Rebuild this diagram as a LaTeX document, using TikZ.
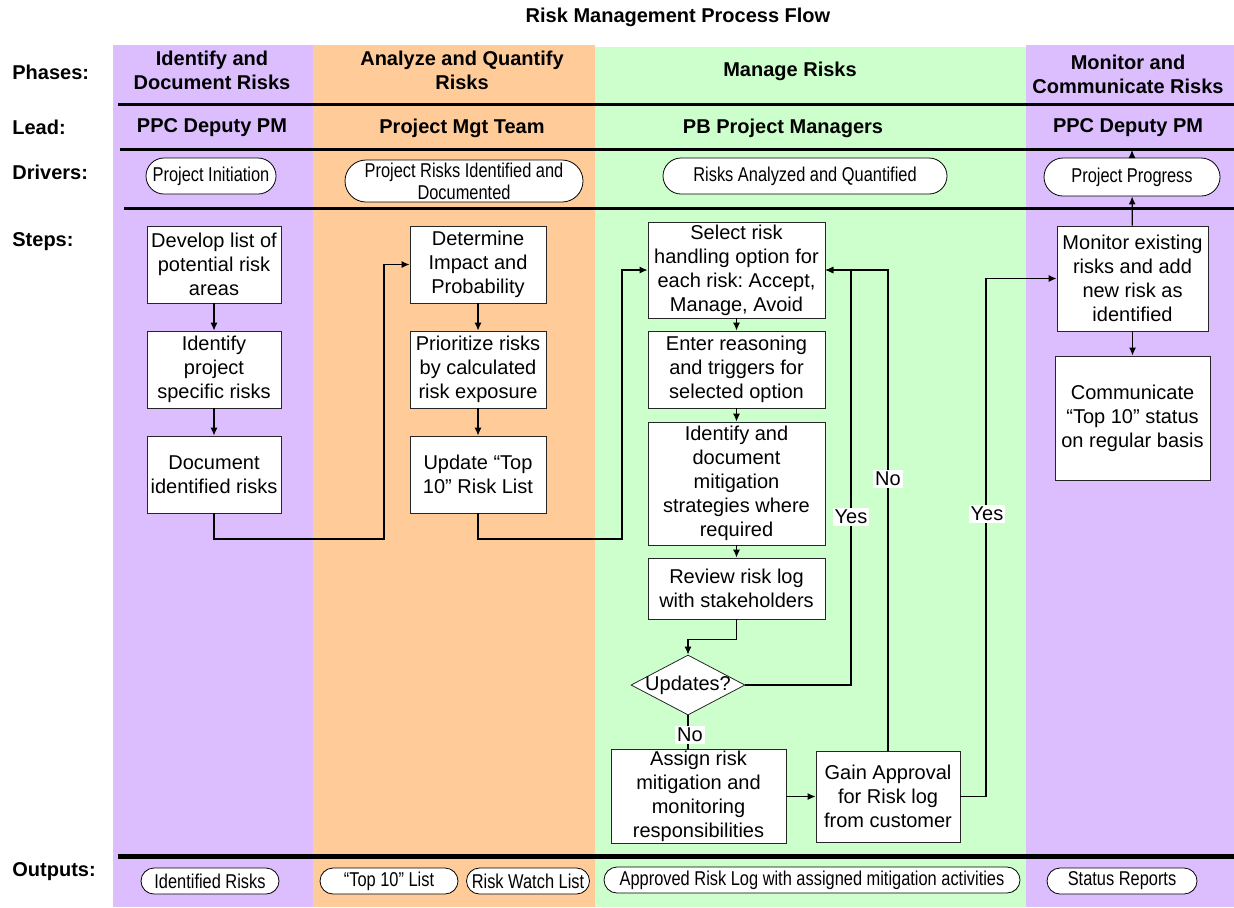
\documentclass[tikz,border=0pt]{standalone}
\usepackage{fontspec}
\setmainfont{Liberation Sans}
\newfontfamily\narrowfont[FakeStretch=0.82]{Liberation Sans}
\usetikzlibrary{arrows.meta,shapes.geometric,shapes.misc}
\frenchspacing
\definecolor{lilac}{RGB}{220,190,255}
\definecolor{apricot}{RGB}{255,204,153}
\definecolor{mint}{RGB}{204,255,204}
\tikzset{
  stepbox/.style={draw=black!85, fill=white, align=center, inner sep=1pt, font=\fontsize{10}{12}\selectfont},
  pill/.style={rounded rectangle, draw, fill=white, inner sep=0pt, align=center, font=\narrowfont\fontsize{10}{11}\selectfont},
  flow/.style={-{Latex[length=4pt,width=3.5pt]}, line width=0.6pt},
  ans/.style={fill=white, inner sep=1pt, font=\fontsize{10}{12}\selectfont},
  rowname/.style={anchor=west, inner sep=0pt, font=\bfseries\fontsize{10}{12}\selectfont},
  head/.style={align=center, font=\bfseries\fontsize{10}{12}\selectfont},
  rule/.style={line width=1.5pt},
}
\begin{document}
\begin{tikzpicture}[x=0.5pt,y=-0.5pt]
    \useasboundingbox (0,0) rectangle (1234,907);
    % swim lanes
    \fill[lilac] (113,45) rectangle (313,907);
    \fill[apricot] (313,45) rectangle (595,907);
    \fill[mint] (595,47) rectangle (1026,907);
    \fill[lilac] (1026,45) rectangle (1234,907);
    \draw[rule] (118,104) -- (1234,104);
    \draw[rule] (120,149) -- (1234,149);
    \draw[rule] (124,208) -- (1234,208);
    \draw[line width=2.5pt] (118,856) -- (1234,856);

    \node[head] (title) at (678,17) {Risk Management Process Flow};
    \foreach \n/\y/\t in {ph/72/Phases:, ld/127/Lead:, dr/172/Drivers:, st/242/Steps:, op/872/Outputs:}{
      \node[rowname] (\n) at (12,\y) {\t};
    }
    \foreach \n/\x/\y/\t in {H1/212/70/{Identify and\\Document Risks}, H2/462/70/{Analyze and Quantify\\Risks},
        H3/790/71/{Manage Risks}, H4/1128/74/{Monitor and\\Communicate Risks},
        L1/212/128/{PPC Deputy PM}, L2/462/128/{Project Mgt Team}, L3/783/128/{PB Project Managers}, L4/1128/128/{PPC Deputy PM}}{
      \node[head] (\n) at (\x,\y) {\t};
    }

    % drivers and outputs
    \foreach \n/\x/\y/\w/\h/\t in {init/211/176/65/18/{Project Initiation}, prid/464/181/119/21/{Project Risks Identified and\\Documented},
        raq/805/176/142/18/{Risks Analyzed and Quantified}, prog/1132/177/88/19/{Project Progress},
        idr/210/881/69/13/{Identified Risks}, topl/389/881/69/13/{“Top 10” List}, rwl/528/881/61.5/13/{Risk Watch List},
        arl/812/880/208/13/{Approved Risk Log with assigned mitigation activities}, str/1122/881/75/13/{Status Reports}}{
      \node[pill, minimum width=\w pt, minimum height=\h pt] (\n) at (\x,\y) {\t};
    }

    % steps
    \node[stepbox, minimum width=67pt, minimum height=38.5pt] (dev) at (214,264.5) {Develop list of\\potential risk\\areas};
    \node[stepbox, minimum width=67pt, minimum height=38.5pt] (idp) at (214,369.5) {Identify\\project\\specific risks};
    \node[stepbox, minimum width=67pt, minimum height=38.5pt] (doc) at (214,474.5) {Document\\identified risks};
    \node[stepbox, minimum width=68pt, minimum height=38.5pt] (det) at (478,264.5) {Determine\\Impact and\\Probability};
    \node[stepbox, minimum width=68pt, minimum height=38.5pt] (pri) at (478,369.5) {Prioritize risks\\by calculated\\risk exposure};
    \node[stepbox, minimum width=68pt, minimum height=38.5pt] (upd) at (478,474.5) {Update “Top\\10” Risk List};
    \node[stepbox, minimum width=88.5pt, minimum height=48pt] (sel) at (736.5,270) {Select risk\\handling option for\\each risk: Accept,\\Manage, Avoid};
    \node[stepbox, minimum width=88.5pt, minimum height=38.5pt] (ent) at (736.5,369.5) {Enter reasoning\\and triggers for\\selected option};
    \node[stepbox, minimum width=88.5pt, minimum height=61.5pt] (idm) at (736.5,483.5) {Identify and\\document\\mitigation\\strategies where\\required};
    \node[stepbox, minimum width=88.5pt, minimum height=30.5pt] (rev) at (736.5,588.5) {Review risk log\\with stakeholders};
    \node[diamond, draw=black!85, fill=white, minimum width=57pt, minimum height=30pt, inner sep=0pt,
        font=\fontsize{10}{12}\selectfont] (updq) at (688,685) {\makebox[0pt]{Updates?}};
    \node[stepbox, minimum width=87.5pt, minimum height=45.5pt] (asg) at (698.5,796.5) {Assign risk\\mitigation and\\monitoring\\responsibilities};
    \node[stepbox, minimum width=72pt, minimum height=45.5pt] (gain) at (888,796.5) {Gain Approval\\for Risk log\\from customer};
    \node[stepbox, minimum width=75.5pt, minimum height=52.5pt] (mon) at (1132.5,278.5) {Monitor existing\\risks and add\\new risk as\\identified};
    \node[stepbox, minimum width=77.5pt, minimum height=62pt] (com) at (1132.5,418) {Communicate\\“Top 10” status\\on regular basis};

    % connectors
    \foreach \a/\b in {dev/idp, idp/doc, det/pri, pri/upd, sel/ent, ent/idm, idm/rev, mon/com, mon/prog}{
      \draw[flow] (\a) -- (\b);
    }
    \coordinate (j1) at (384,539);
    \coordinate (j2) at (622,539);
    \coordinate (j3) at (851,500);
    \coordinate (j4) at (986,500);
    \coordinate (pt) at (1132,150);
    \draw[flow] (doc.south) |- (j1) |- (det.west);
    \draw[flow] (upd.south) |- (j2) |- (sel.west);
    \draw[flow] (rev.south) -- ++(0,20) -| (updq.north);
    \draw[flow] (updq.east) -| (j3) |- (sel.east);
    \draw[line width=0.6pt] (updq.south) -- (updq.south |- asg.north);
    \draw[flow] (asg.east) -- (gain.west);
    \draw[flow] (gain.north) |- (sel.east);
    \draw[flow] (gain.east) -| (j4) |- (mon.west);
    \draw[flow] (prog.north) -- (pt);
    \node[ans] (yes1) at (851,517) {Yes};
    \node[ans] (no1) at (888,479) {No};
    \node[ans] (yes2) at (987,514) {Yes};
    \node[ans] (no2) at (690,735) {No};
\end{tikzpicture}
\end{document}
